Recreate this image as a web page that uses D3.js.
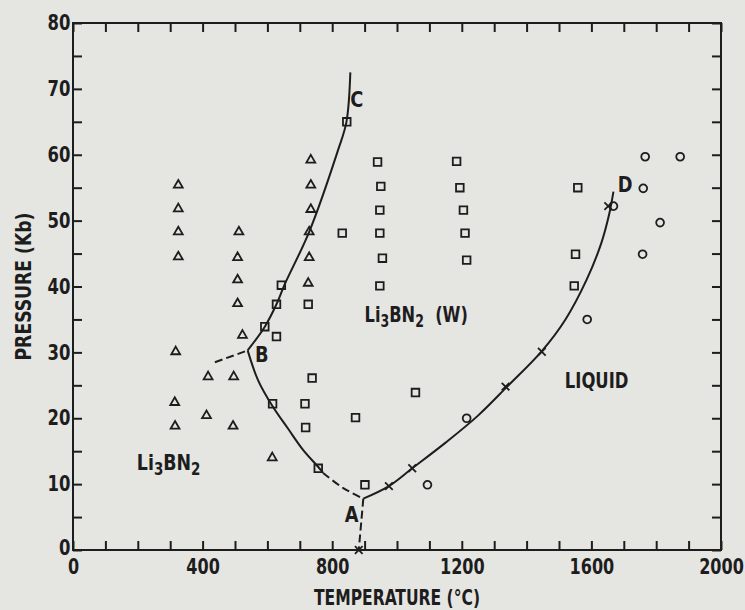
<!DOCTYPE html>
<html>
<head>
<meta charset="utf-8">
<script src="https://cdn.jsdelivr.net/npm/d3@7"></script>
<style>
  body { margin: 0; background: #e5e5e2; }
  text { font-family: "Liberation Sans Narrow", "DejaVu Sans Condensed", sans-serif; fill: #1d1d1d; }
  .tickLabel text { font-size: 21px; font-weight: bold; }
  .titles { font-size: 21px; font-weight: bold; }
  .region { font-size: 22px; font-weight: bold; }
</style>
</head>
<body>
<div id="chart"></div>
<script>
// Data (temperature in °C, pressure in Kb)
const triT = [325, 325, 325, 325, 317, 314, 315, 512, 508, 508, 508, 523, 417, 496, 412, 494, 734, 734, 734, 729, 729, 726, 615];
const triP = [55.4, 51.8, 48.3, 44.5, 30.1, 22.4, 18.8, 48.3, 44.4, 41.0, 37.4, 32.6, 26.3, 26.3, 20.4, 18.8, 59.2, 55.4, 51.7, 48.3, 44.4, 40.5, 14.0];

const sqT = [643, 628, 592, 628, 726, 831, 940, 950, 947, 947, 955, 947, 738, 616, 716, 872, 718, 757, 901, 845, 1184, 1194, 1205, 1210, 1215, 1558, 1551, 1547, 1057];
const sqP = [40.2, 37.3, 33.9, 32.4, 37.3, 48.1, 58.9, 55.2, 51.6, 48.1, 44.3, 40.1, 26.1, 22.2, 22.2, 20.1, 18.6, 12.4, 9.9, 65.0, 59.0, 55.0, 51.6, 48.1, 44.0, 55.0, 44.9, 40.1, 23.9];

const ciT = [1766, 1874, 1760, 1668, 1812, 1758, 1587, 1215, 1094];
const ciP = [59.7, 59.7, 54.9, 52.2, 49.7, 44.9, 35.0, 20.0, 9.9];

const xT = [882, 975, 1047, 1335, 1447, 1652];
const xP = [0, 9.7, 12.4, 24.8, 30.1, 52.2];

// phase boundaries
const bcT = [539, 592, 628, 654, 729, 818, 844, 856];
const bcP = [30.3, 33.9, 37.3, 40.4, 48.3, 60.7, 65.0, 72.5];
const baT = [539, 571, 615, 664, 710, 757, 772];
const baP = [30.3, 25.8, 21.9, 18.4, 15.2, 12.6, 11.7];
const baDashT = [772, 834, 896];
const baDashP = [11.7, 9.4, 7.8];
const bLeftT = [438, 539];
const bLeftP = [28.5, 30.3];
const aDownT = [896, 882];
const aDownP = [7.8, 0];
const adT = [896, 975, 1047, 1150, 1250, 1340, 1447, 1520, 1585, 1630, 1655, 1668];
const adP = [7.8, 9.7, 12.4, 16.3, 20.4, 24.8, 30.2, 35.0, 41.0, 46.5, 51.0, 54.4];

// ticks
const xMinor = d3.range(0, 2001, 100);
const xLabels = [0, 400, 800, 1200, 1600, 2000];
const yMinor = d3.range(0, 81, 5);
const yLabels = [0, 10, 20, 30, 40, 50, 60, 70, 80];

const width = 745;
const height = 610;
const margin = {top: 23, right: 24, bottom: 60, left: 73};
const innerW = width - margin.left - margin.right;
const innerH = height - margin.top - margin.bottom;

const svg = d3.select('div#chart').append('svg').attr('width', width).attr('height', height);
const g = svg.append('g').attr('transform', `translate(${margin.left},${margin.top})`);

const x = d3.scaleLinear().domain([0, 2000]).range([0, innerW]);
const y = d3.scaleLinear().domain([0, 80]).range([innerH, 0]);

const ink = '#1d1d1d';

// axes: inward ticks on all four sides
const tickAxis = (axis, tr) => {
    const a = g.append('g').attr('transform', tr).call(axis);
    a.select('.domain').remove();
    a.selectAll('line').attr('stroke', ink).attr('stroke-width', 2);
    return a;
};
tickAxis(d3.axisBottom(x).tickValues(xMinor).tickSize(-9).tickFormat(''), `translate(0,${innerH})`);
tickAxis(d3.axisTop(x).tickValues(xMinor).tickSize(-9).tickFormat(''), 'translate(0,0)');
tickAxis(d3.axisLeft(y).tickValues(yMinor).tickSize(-9).tickFormat(''), 'translate(0,0)');
tickAxis(d3.axisRight(y).tickValues(yMinor).tickSize(-9).tickFormat(''), `translate(${innerW},0)`);

const xLab = g.append('g').attr('class', 'tickLabel').attr('transform', `translate(0,${innerH})`)
    .call(d3.axisBottom(x).tickValues(xLabels).tickSize(0).tickPadding(9).tickFormat(d3.format('d')));
xLab.select('.domain').remove();
xLab.selectAll('text').attr('transform', 'scale(0.85,1)');
const yLab = g.append('g').attr('class', 'tickLabel')
    .call(d3.axisLeft(y).tickValues(yLabels).tickSize(0).tickPadding(3).tickFormat(d3.format('d')));
yLab.select('.domain').remove();
yLab.selectAll('text').attr('transform', 'scale(0.87,1)');
yLab.selectAll('text').filter(d => d === 0).attr('dy', '0.2em');

g.append('rect').attr('width', innerW).attr('height', innerH)
    .attr('fill', 'none').attr('stroke', ink).attr('stroke-width', 2);

// axis titles
svg.append('text').attr('class', 'titles').attr('text-anchor', 'middle')
    .attr('x', margin.left + x(1000)).attr('y', 605)
    .attr('textLength', 166).attr('lengthAdjust', 'spacingAndGlyphs').text('TEMPERATURE (°C)');
svg.append('text').attr('class', 'titles').attr('text-anchor', 'middle')
    .attr('transform', `translate(31,${margin.top + innerH / 2}) rotate(-90)`)
    .attr('textLength', 148).attr('lengthAdjust', 'spacingAndGlyphs').text('PRESSURE (Kb)');

// boundary lines
const line = d3.line().x(d => x(d[0])).y(d => y(d[1])).curve(d3.curveCatmullRom);
const drawLine = (ts, ps, dash) => {
    g.append('path').datum(d3.zip(ts, ps)).attr('d', line)
        .attr('fill', 'none').attr('stroke', ink).attr('stroke-width', 2)
        .attr('stroke-dasharray', dash ? '8,4' : null);
};
drawLine(bcT, bcP, false);
drawLine(baT, baP, false);
drawLine(baDashT, baDashP, true);
drawLine(bLeftT, bLeftP, true);
drawLine(aDownT, aDownP, true);
drawLine(adT, adP, false);

// symbols
const sym = (ts, ps, type, size) => {
    g.append('g').selectAll('path').data(d3.zip(ts, ps)).enter().append('path')
        .attr('transform', d => `translate(${x(d[0])},${y(d[1])})`)
        .attr('d', d3.symbol().type(type).size(size))
        .attr('fill', 'none').attr('stroke', ink).attr('stroke-width', 1.8);
};
sym(triT, triP, d3.symbolTriangle, 34);
sym(sqT, sqP, d3.symbolSquare, 58);
sym(ciT, ciP, d3.symbolCircle, 48);
sym(xT, xP, d3.symbolTimes, 40);

// region and point labels
const labText = ['A', 'B', 'C', 'D', 'LIQUID'];
const labT = [860, 583, 876, 1704, 1518];
const labP = [4.2, 28.5, 67.2, 54.3, 24.6];
g.append('g').selectAll('text').data(labText).enter().append('text')
    .attr('class', 'region')
    .attr('text-anchor', (d, i) => i < 4 ? 'middle' : 'start')
    .attr('transform', (d, i) => `translate(${x(labT[i])},${y(labP[i])}) scale(${i < 4 ? 0.9 : 0.83},1)`)
    .text(d => d);

// Li3BN2 labels with subscripts
const phaseT = [197, 900];
const phaseP = [12.1, 34.6];
const phaseSuffix = ['', '  (W)'];
const phaseScale = [0.88, 0.82];
phaseT.forEach((t, i) => {
    const tx = g.append('text').attr('class', 'region')
        .attr('transform', `translate(${x(t)},${y(phaseP[i])}) scale(${phaseScale[i]},1)`)
        .attr('xml:space', 'preserve');
    tx.append('tspan').text('Li');
    tx.append('tspan').attr('dy', 5).style('font-size', '17px').text('3');
    tx.append('tspan').attr('dy', -5).text('BN');
    tx.append('tspan').attr('dy', 5).style('font-size', '17px').text('2');
    tx.append('tspan').attr('dy', -5).text(phaseSuffix[i]);
});
</script>
</body>
</html>
